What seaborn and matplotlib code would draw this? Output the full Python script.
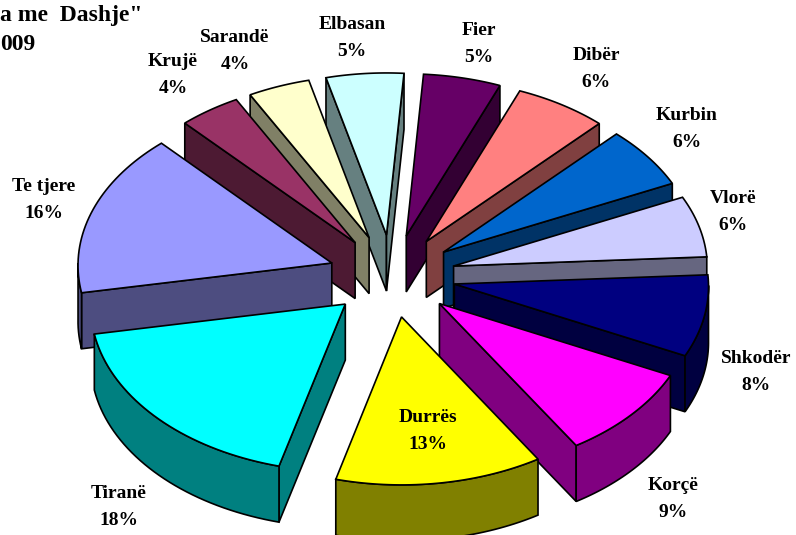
import numpy as np
import seaborn as sns
import matplotlib.pyplot as plt
from matplotlib.patches import Polygon

# Share of each city, clockwise from the top
cities = ['Elbasan', 'Fier', 'Dibër', 'Kurbin', 'Vlorë', 'Shkodër', 'Korçë',
          'Durrës', 'Tiranë', 'Te tjere', 'Krujë', 'Sarandë']
shares = [5, 5, 6, 6, 6, 8, 9, 13, 18, 16, 4, 4]
top_colors = ['#CCFFFF', '#660066', '#FF8080', '#0066CC', '#CCCCFF', '#000080',
              '#FF00FF', '#FFFF00', '#00FFFF', '#9999FF', '#993366', '#FFFFCC']
side_colors = ['#668080', '#330033', '#804040', '#003366', '#666680', '#000040',
               '#800080', '#808000', '#008080', '#4D4D80', '#4D1A33', '#808066']
label_pos = [(352, 38), (479, 44), (596, 69), (687, 129), (733, 212), (756, 372),
             (673, 499), (428, 431), (119, 507), (44, 200), (173, 75), (235, 51)]

sns.set_theme(style='white')
plt.rcParams['font.family'] = ['Liberation Serif', 'DejaVu Serif']

# look of the fake 3D pie, in pixels
cx, cy = 392, 276
rx, ry = 254, 165
explode = 0.25
persp = 0.012
depth = 56
start = -14


def project(x, y, z=0):
    w = 1 + persp * y
    return cx + rx * x / w, cy - ry * y / w + z


def ring(angles, off):
    t = np.radians(angles)
    return [(np.sin(a) + off[0], np.cos(a) + off[1]) for a in t]


fig = plt.figure(figsize=(7.96, 5.35), dpi=100)
ax = fig.add_axes([0, 0, 1, 1])
ax.set_xlim(0, 796)
ax.set_ylim(535, 0)
ax.axis('off')

edges = start + np.cumsum([0] + shares) * 3.6
mids = (edges[:-1] + edges[1:]) / 2
order = np.argsort(-np.cos(np.radians(mids)))

for rank, i in enumerate(order):
    a0, a1 = edges[i], edges[i + 1]
    off = (explode * np.sin(np.radians(mids[i])), explode * np.cos(np.radians(mids[i])))
    z = 10 + rank * 5
    angles = np.linspace(a0, a1, 40)
    outer = ring(angles, off)
    tip = project(*off)
    tip_low = project(*off, depth)

    # the two cut faces, only when they look at the viewer
    if np.sin(np.radians(a0)) < 0:
        pts = [tip, project(*outer[0]), project(*outer[0], depth), tip_low]
        ax.add_patch(Polygon(pts, closed=True, fc=side_colors[i], ec='black', lw=1.2, zorder=z))
    if np.sin(np.radians(a1)) > 0:
        pts = [tip, project(*outer[-1]), project(*outer[-1], depth), tip_low]
        ax.add_patch(Polygon(pts, closed=True, fc=side_colors[i], ec='black', lw=1.2, zorder=z))

    # rim, only the part turned to the viewer
    front = angles[np.cos(np.radians(angles)) <= 0]
    if len(front) > 1:
        rim = ring(front, off)
        pts = [project(*p) for p in rim] + [project(*p, depth) for p in rim[::-1]]
        ax.add_patch(Polygon(pts, closed=True, fc=side_colors[i], ec='black', lw=1.2, zorder=z + 1))

    top = [tip] + [project(*p) for p in outer]
    ax.add_patch(Polygon(top, closed=True, fc=top_colors[i], ec='black', lw=1.2, zorder=z + 2))

for name, value, (x, y) in zip(cities, shares, label_pos):
    ax.text(x, y, f'{name}\n{value}%', ha='center', va='center', fontsize=14, color='black',
            fontweight='bold', linespacing=1.75, zorder=100)

ax.text(0, 15, 'a me  Dashje"', ha='left', va='center', fontsize=17, fontweight='bold', color='black')
ax.text(0, 44, '009', ha='left', va='center', fontsize=17, fontweight='bold', color='black')

fig.savefig('out.png', dpi=100)
